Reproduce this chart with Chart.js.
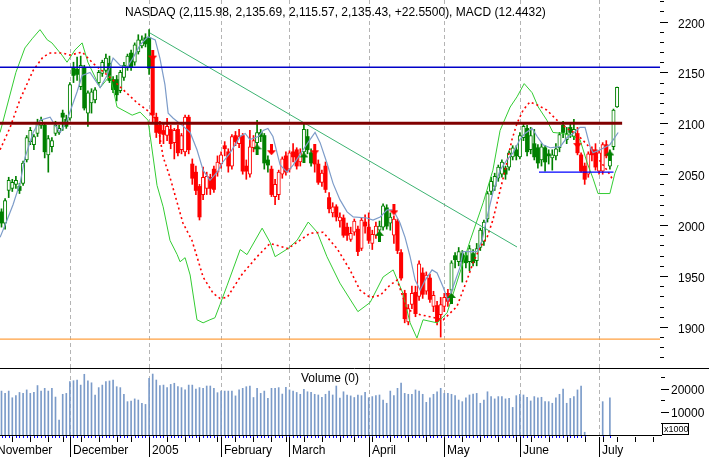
<!DOCTYPE html>
<html>
<head>
<meta charset="utf-8">
<script src="https://cdn.jsdelivr.net/npm/chart.js@4.4.1/dist/chart.umd.min.js"></script>
<style>
html, body { margin: 0; padding: 0; background: #fff; overflow: hidden; }
#wrap { position: relative; width: 709px; height: 457px; }
canvas { position: absolute; left: 0; }
#main { top: 0; }
#vol { top: 368px; }
</style>
</head>
<body>
<div id="wrap">
  <canvas id="main" width="709" height="368"></canvas>
  <canvas id="vol" width="709" height="89"></canvas>
</div>
<script>
// trading days, Nov 3 2004 .. Jul 11 2005 (index = trading day number)
const openP = [2013,2002,2034,2036,2040,2038,2041,2064,2082,2079,2090,2098,2098,2069,2077,2090,2091,2110,2104,
  2105,2154,2153,2136,2154,2110,2120,2123,2140,2149,2152,2159,2143,2143,2132,2145,2155,2169,2160,2170,2176,2184,
  2184,2165,2106,2098,2093,2088,2094,2081,2094,2074,2072,2106,2060,2052,2038,2030,2036,2047,2055,2052,
  2060,2078,2072,2058,2088,2080,2088,2058,2050,2076,2081,2091,2088,2064,2055,2028,2030,2050,2068,
  2055,2072,2074,2062,2072,2087,2071,2071,2060,2042,2058,2027,2012,2018,2004,2007,1998,1986,1993,1996,1977,2003,
  1998,1982,1990,1995,1998,2017,2002,1990,2004,1973,1933,1905,1922,1934,1930,1953,1935,1948,1920,1921,1912,
  1920,1933,1936,1970,1964,1972,1970,1964,1972,1965,1978,1984,2006,2033,2038,2046,2050,2056,2057,2067,2074,
  2067,2086,2095,2074,2080,2076,2064,2076,2070,2066,2068,2076,2098,2084,2096,2087,2090,2069,2058,2050,2074,2074,
  2053,2053,2079,2058,2077,2115.98];
const highP = [2016,2026,2047,2045,2048,2041,2063,2088,2096,2089,2104,2106,2101,2088,2086,2102,2098,2113,2108,
  2140,2160,2165,2166,2157,2132,2134,2135,2152,2162,2168,2166,2146,2147,2152,2160,2168,2172,2179,2187,2186,2188,
  2192,2168,2110,2102,2100,2105,2098,2095,2098,2090,2108,2108,2065,2058,2040,2057,2052,2050,2058,2068,
  2072,2082,2075,2089,2092,2094,2090,2064,2093,2088,2103,2094,2090,2068,2058,2045,2054,2067,2072,
  2073,2080,2076,2075,2101,2094,2075,2073,2064,2054,2062,2032,2022,2020,2012,2010,2002,1998,2006,1999,2007,2010,
  2012,1995,2003,2004,2021,2020,2012,2009,2006,1976,1936,1922,1940,1940,1965,1958,1954,1952,1935,1925,1929,
  1933,1937,1965,1973,1978,1975,1974,1980,1976,1982,1997,2005,2033,2047,2051,2059,2064,2058,2073,2078,2078,
  2091,2100,2098,2096,2094,2079,2080,2078,2074,2074,2080,2091,2102,2096,2100,2104,2096,2071,2061,2072,2077,2080,
  2073,2081,2083,2074,2114,2135.69];
const lowP = [1998,1996,2027,2033,2036,2031,2039,2062,2079,2074,2087,2095,2066,2052,2072,2088,2089,2093,2095,
  2103,2140,2142,2133,2113,2097,2110,2120,2138,2146,2150,2140,2130,2122,2130,2142,2152,2152,2157,2168,2174,2175,
  2148,2100,2086,2080,2080,2083,2075,2065,2068,2070,2068,2070,2040,2030,2005,2025,2030,2030,2032,2048,
  2056,2068,2052,2055,2078,2076,2050,2045,2047,2072,2078,2082,2055,2052,2028,2020,2025,2046,2049,
  2052,2062,2055,2058,2070,2070,2058,2052,2040,2038,2032,2012,2008,2004,1998,1988,1985,1984,1990,1970,1975,1992,
  1982,1976,1987,1990,1995,1996,1995,1982,1972,1946,1904,1902,1918,1910,1926,1928,1932,1924,1915,1902,1890,
  1915,1920,1934,1958,1960,1944,1958,1955,1960,1960,1975,1980,2003,2030,2034,2043,2047,2045,2054,2064,2064,
  2065,2083,2068,2070,2064,2056,2058,2053,2060,2054,2064,2072,2086,2080,2086,2084,2069,2052,2040,2047,2063,2054,
  2050,2050,2066,2055,2074,2115.57];
const closeP = [2002,2024,2044,2042,2044,2034,2061,2086,2093,2087,2100,2103,2072,2085,2083,2098,2095,2106,2097,
  2138,2147,2148,2157,2115,2130,2131,2133,2150,2160,2164,2142,2133,2128,2150,2157,2166,2155,2177,2182,2182,2178,
  2154,2108,2091,2090,2089,2097,2080,2093,2071,2088,2106,2074,2046,2034,2008,2047,2048,2036,2035,2062,
  2069,2075,2058,2087,2082,2087,2053,2053,2077,2083,2091,2087,2061,2059,2030,2040,2052,2065,2052,
  2071,2067,2058,2071,2094,2074,2061,2060,2042,2051,2035,2016,2018,2008,2008,1990,1990,1992,2004,1974,2005,1999,
  1985,1991,1999,1999,2019,1999,2008,2006,1975,1948,1908,1918,1933,1913,1962,1932,1951,1927,1931,1905,1922,
  1929,1925,1963,1966,1974,1964,1963,1977,1963,1977,1995,2003,2031,2043,2048,2057,2062,2050,2071,2076,2068,
  2088,2097,2072,2088,2067,2061,2077,2062,2068,2069,2075,2089,2091,2090,2091,2094,2071,2053,2045,2070,2069,2057,
  2071,2079,2068,2070,2113,2135.43];

// volume in thousands (null = no bar drawn)
const volume = [19100,18100,19100,16200,17100,18500,18100,19600,18100,18500,
  21500,19100,20300,19100,20300,16500,6500,17700,18100,23200,
  23600,23900,21700,26400,23500,22700,17400,20600,21700,23200,
  23500,23900,21000,20600,17700,14500,14800,15700,15200,13800,
  13300,24600,26500,23900,21500,21700,20600,22000,22500,21000,
  20600,19600,21700,21700,20000,20600,20300,21300,21300,20300,
  18400,19100,19100,19100,19100,17000,19600,20300,21000,21300,
  16300,20300,18100,19100,15900,20300,20300,20600,17800,20700,
  19600,19100,18500,17700,19900,18800,18500,17700,17400,16400,
  17700,19100,17400,21300,16000,18800,17400,17000,16300,
  17400,17100,18600,16200,16700,17100,17400,15200,13800,19100,
  17100,20300,22600,18100,17700,17700,19600,19100,17700,14200,
  16200,17700,18800,20300,18100,18100,17700,17100,15200,14500,
  16200,17400,17800,18100,13800,15200,18800,16700,15700,16700,
  16700,15700,15900,12000,17100,17700,17400,16400,14800,16700,
  16200,16400,14500,14500,13800,16200,17700,20000,13800,15900,
  16700,19600,21300,1200,null,null,null,null,14500,null,16200,null,null];

// crossover signals (trading day index, price level of the arrow)
const upIdx = [71, 84, 105, 125, 169];
const upVal = [2074, 2066, 1989, 1928, 2068];
const downIdx = [42, 75, 87, 109, 160];
const downVal = [2167, 2074, 2074, 2015, 2081];

// green band line (day index, value)
const bandX = [-0.4,4,6.5,8.5,10.7,12.7,14,16.8,18.2,20.4,22.4,24,27.4,30.2,32.1,36.3,38.5,40.7,43.2,44.9,46.8,48.8,49.6,51,52.4,54.3,56,57.9,59.3,60.7,62.7,66.3,68.2,72.4,74.6,76,79.6,82.1,85.2,87.7,90.4,94,99,102.4,106,108.8,111.5,113.5,115.4,117.1,121,123.8,130.2,133.8,136.5,138.5,141.3,143.2,145.2,147.4,149.1,151.5,153.2,156,158.8,160.7,162.7,164.3,165.7,169,170.4,171.3];
const bandV = [2091,2150,2174,2183,2192,2182,2179,2167,2160,2172,2179,2160,2135,2147,2116,2108,2111,2103,2039,2018,1985,1971,1964,1968,1951,1907,1904,1907,1909,1922,1941,1976,1971,1997,1983,1969,1977,1985,2003,1993,1969,1943,1915,1924,1949,1956,1933,1904,1889,1907,1904,1914,1985,2022,2054,2093,2116,2126,2139,2130,2116,2103,2091,2090,2087,2084,2061,2046,2031,2031,2051,2059];

// red dashed average
const redX = [-0.4,2.4,5.1,8.8,11.5,13.5,17.1,19,22.4,25.4,30.2,33.8,37.7,40.4,43.2,44.9,46.8,48.8,50.4,52.9,54.3,56,58.8,60.7,62.7,66.3,67.1,71,74.6,79.6,85.7,89.3,93.2,96.8,99.6,102.4,105.2,107.9,109.9,112.7,116.3,119,122.7,126.5,129.3,131,132.9,134.9,136.5,138.5,139.9,141.8,143.2,144.9,146.8,148.8,151.5,154.3,157.1,159.9,162.7,165.4,168.2,169.9];
const redV = [2074,2096,2123,2152,2165,2169,2169,2167,2170,2159,2145,2133,2120,2113,2103,2067,2047,2022,2002,1985,1969,1949,1933,1928,1929,1949,1953,1969,1982,1977,1992,1993,1977,1956,1936,1929,1931,1941,1946,1917,1912,1910,1907,1920,1946,1963,1978,1988,2005,2034,2054,2084,2100,2113,2121,2118,2113,2103,2095,2089,2079,2067,2054,2044];

// blue short average
const blueX = [-0.4,1,3.2,5.2,6.5,8.8,10.7,13.5,14.9,16.3,18.2,21,22.4,24.6,27.4,29.3,31,32.9,34.9,36.5,38.5,40.7,42.7,44,45.4,46.3,47.7,50.2,52.4,54.3,56,57.9,59.9,61.3,63.5,66.3,67.7,69,71.3,72.7,74,75.4,77.4,79.3,81,83.8,85.7,87.1,88.5,90.4,92.1,94,96,97.7,101.5,103.2,105.2,107.1,108.8,110.7,112.1,113.5,114.9,116.3,117.7,119.6,121,122.7,124,125.4,127.4,128.2,132.1,133.5,134.9,136.5,138.5,140.4,142.1,144,145.4,147.4,148.8,150.4,152.4,155.2,157.1,158.8,160.7,162.1,163.5,164.3,166.3,169,171.3];
const blueV = [1988,2000,2020,2042,2066,2091,2103,2106,2098,2091,2103,2131,2147,2150,2135,2147,2164,2157,2155,2164,2177,2185,2182,2164,2138,2110,2105,2098,2091,2074,2054,2044,2052,2061,2071,2087,2090,2084,2087,2093,2095,2087,2059,2052,2059,2074,2084,2091,2081,2061,2041,2025,2013,2008,2007,2005,2008,2015,2015,2002,1988,1969,1946,1936,1946,1956,1953,1939,1926,1939,1959,1974,1974,1985,2008,2032,2054,2064,2071,2084,2090,2095,2087,2079,2076,2077,2086,2090,2096,2096,2077,2071,2074,2079,2091];

// drawn levels and trendline
const resistHigh = 2155;
const resistMid = 2100;
const supportLow = 1888;
const supportJune = 2052;
const trendX = [41.25, 143.2];
const trendV = [2188.7, 1978.5];

// axis labels
const monthNames = ['November', 'December', '2005', 'February', 'March', 'April', 'May', 'June', 'July'];
const monthStart = [-2, 19, 41, 61, 80, 102, 123, 144, 166];
const weekStart = [3,8,13,17,22,27,32,36,41,46,51,55,60,65,70,75,79,84,89,94,98,103,108,113,118,123,128,133,138,143,147,152,157,162,167,171,176,181];
const priceLabels = [1900, 1950, 2000, 2050, 2100, 2150, 2200];
const volLabels = [10000, 20000];
const titleText = 'NASDAQ (2,115.98, 2,135.69, 2,115.57, 2,135.43, +22.5500), MACD (12.4432)';

const FONT = "'Liberation Sans', Arial, sans-serif";
const GREEN = '#008000', RED = '#ff0000';
const xMin = -0.4167, xMax = 182.92;

function trendAt(i) {
  let last = 'up', at = -1;
  upIdx.forEach(k => { if (k <= i && k > at) { at = k; last = 'up'; } });
  downIdx.forEach(k => { if (k <= i && k > at) { at = k; last = 'down'; } });
  return last;
}
const candleColor = closeP.map((c, i) => trendAt(i) === 'up' ? GREEN : RED);
const filled = closeP.map((c, i) => c < openP[i]);

const pts = (xs, ys) => xs.map((x, i) => ({ x: x, y: ys[i] }));
const flat = (x0, x1, v) => [{ x: x0, y: v }, { x: x1, y: v }];

function arrowImg(color, up) {
  const c = document.createElement('canvas');
  c.width = 9; c.height = 11;
  const g = c.getContext('2d');
  g.fillStyle = color;
  g.beginPath();
  if (up) {
    g.moveTo(4.5, 0); g.lineTo(9, 5); g.lineTo(0, 5);
    g.closePath(); g.fill(); g.fillRect(3, 5, 3, 6);
  } else {
    g.fillRect(3, 0, 3, 6);
    g.moveTo(0, 6); g.lineTo(9, 6); g.lineTo(4.5, 11);
    g.closePath(); g.fill();
  }
  return c;
}

function vDashes(chart, top, bottom) {
  const ctx = chart.ctx, xs = chart.scales.x;
  ctx.save();
  ctx.strokeStyle = '#b4b4b4';
  ctx.lineWidth = 1;
  ctx.setLineDash([4, 3]);
  monthStart.forEach(m => {
    if (m < 0) return;
    const px = Math.round(xs.getPixelForValue(m)) + 0.5;
    ctx.beginPath(); ctx.moveTo(px, top); ctx.lineTo(px, bottom); ctx.stroke();
  });
  ctx.restore();
}

const mainDecor = {
  id: 'mainDecor',
  beforeDatasetsDraw(chart) { vDashes(chart, 0, 368); },
  afterDraw(chart) {
    const ctx = chart.ctx, ys = chart.scales.y;
    ctx.save();
    ctx.strokeStyle = '#000';
    ctx.fillStyle = '#000';
    ctx.lineWidth = 1;
    ctx.font = '12px ' + FONT;
    ctx.textBaseline = 'middle';
    for (let v = 1870; v <= 2220; v += 10) {
      const py = Math.round(ys.getPixelForValue(v)) + 0.5;
      const major = priceLabels.includes(v);
      ctx.beginPath(); ctx.moveTo(660, py); ctx.lineTo(major ? 668 : 664, py); ctx.stroke();
      if (major) ctx.fillText(String(v), 678, py + 2);
    }
    ctx.textBaseline = 'alphabetic';
    ctx.fillText(titleText, 125, 15.5);
    ctx.restore();
  }
};

const volDecor = {
  id: 'volDecor',
  beforeDatasetsDraw(chart) { vDashes(chart, 1, 67); },
  afterDraw(chart) {
    const ctx = chart.ctx, xs = chart.scales.x, ys = chart.scales.y;
    ctx.save();
    ctx.strokeStyle = '#000';
    ctx.fillStyle = '#000';
    ctx.lineWidth = 1;
    // panel separator and baseline
    ctx.beginPath(); ctx.moveTo(0, 0.5); ctx.lineTo(709, 0.5); ctx.stroke();
    ctx.beginPath(); ctx.moveTo(0, 67.5); ctx.lineTo(662, 67.5); ctx.stroke();
    // daily marks
    ctx.fillStyle = '#0000ff';
    volume.forEach((v, i) => {
      if (v === null) return;
      ctx.fillRect(Math.round(xs.getPixelForValue(i)), 68, 1, 2);
    });
    ctx.fillStyle = '#000';
    weekStart.forEach(w => {
      const px = Math.round(xs.getPixelForValue(w)) + 0.5;
      ctx.beginPath(); ctx.moveTo(px, 69); ctx.lineTo(px, 74); ctx.stroke();
    });
    ctx.font = '12px ' + FONT;
    ctx.textBaseline = 'alphabetic';
    monthStart.forEach((m, k) => {
      const px = Math.round(xs.getPixelForValue(m)) + 0.5;
      ctx.beginPath(); ctx.moveTo(px, 69); ctx.lineTo(px, 89); ctx.stroke();
      ctx.fillText(monthNames[k], px + 2.5, 86);
    });
    // right axis
    ctx.textBaseline = 'middle';
    for (let v = 5000; v <= 25000; v += 5000) {
      const py = Math.round(ys.getPixelForValue(v)) + 0.5;
      const major = volLabels.includes(v);
      ctx.beginPath(); ctx.moveTo(661, py); ctx.lineTo(major ? 669 : 665, py); ctx.stroke();
      if (major) ctx.fillText(String(v), 671, py + 1);
    }
    ctx.strokeRect(662.5, 55.5, 26, 11);
    ctx.font = '9px ' + FONT;
    ctx.fillText('x1000', 664, 61.5);
    ctx.font = '12px ' + FONT;
    ctx.textBaseline = 'alphabetic';
    ctx.fillText('Volume (0)', 301, 14);
    ctx.restore();
  }
};

const lineBase = { type: 'line', pointRadius: 0, fill: false, tension: 0 };

new Chart(document.getElementById('main'), {
  type: 'bar',
  data: {
    datasets: [
      {
        type: 'bar', data: lowP.map((l, i) => ({ x: i, y: [l, highP[i]] })),
        backgroundColor: candleColor, barThickness: 1, grouped: false, order: 8
      },
      {
        type: 'bar', data: openP.map((o, i) => ({ x: i, y: [Math.min(o, closeP[i]), Math.max(o, closeP[i])] })),
        backgroundColor: candleColor.map((c, i) => filled[i] ? c : '#ffffff'),
        borderColor: candleColor,
        borderWidth: filled.map(f => f ? 0 : 1),
        borderSkipped: false, barThickness: 3.4, grouped: false, order: 7
      },
      Object.assign({}, lineBase, { data: pts(bandX, bandV), borderColor: '#33cc33', borderWidth: 1, order: 6 }),
      Object.assign({}, lineBase, { data: pts(redX, redV), borderColor: '#ff0000', borderWidth: 1.6, borderDash: [2, 3], order: 5 }),
      Object.assign({}, lineBase, { data: pts(blueX, blueV), borderColor: '#7d9cc9', borderWidth: 1.2, order: 4 }),
      Object.assign({}, lineBase, { data: pts(trendX, trendV), borderColor: '#3cb371', borderWidth: 1, order: 3 }),
      Object.assign({}, lineBase, { data: flat(xMin, xMax, resistHigh), borderColor: '#0000c8', borderWidth: 1.4, order: 2 }),
      Object.assign({}, lineBase, { data: flat(xMin, 172.4, resistMid), borderColor: '#800000', borderWidth: 3, order: 2 }),
      Object.assign({}, lineBase, { data: flat(xMin, xMax, supportLow), borderColor: '#ffa040', borderWidth: 1.4, order: 2 }),
      Object.assign({}, lineBase, { data: flat(149.3, 170, supportJune), borderColor: '#0000ff', borderWidth: 1.4, order: 2 }),
      Object.assign({}, lineBase, { showLine: false, data: pts(upIdx, upVal), pointRadius: 4, pointStyle: arrowImg(GREEN, true), order: 1 }),
      Object.assign({}, lineBase, { showLine: false, data: pts(downIdx, downVal), pointRadius: 4, pointStyle: arrowImg(RED, false), order: 1 })
    ]
  },
  options: {
    responsive: false, animation: false, devicePixelRatio: 1, events: [],
    layout: { autoPadding: false, padding: { left: 0, right: 49, top: 0, bottom: 0 } },
    plugins: { legend: { display: false }, tooltip: { enabled: false } },
    scales: {
      x: { type: 'linear', min: xMin, max: xMax, display: false, offset: false },
      y: { min: 1859.63, max: 2221.12, display: false, beginAtZero: false }
    }
  },
  plugins: [mainDecor]
});

new Chart(document.getElementById('vol'), {
  type: 'bar',
  data: {
    datasets: [{
      data: volume.map((v, i) => ({ x: i, y: v })).filter(d => d.y !== null),
      backgroundColor: '#7b9bc9', barThickness: 1, grouped: false
    }]
  },
  options: {
    responsive: false, animation: false, devicePixelRatio: 1, events: [],
    layout: { autoPadding: false, padding: { left: 0, right: 49, top: 0, bottom: 22 } },
    plugins: { legend: { display: false }, tooltip: { enabled: false } },
    scales: {
      x: { type: 'linear', min: xMin, max: xMax, display: false, offset: false },
      y: { min: 0, max: 29130, display: false }
    }
  },
  plugins: [volDecor]
});
</script>
</body>
</html>
